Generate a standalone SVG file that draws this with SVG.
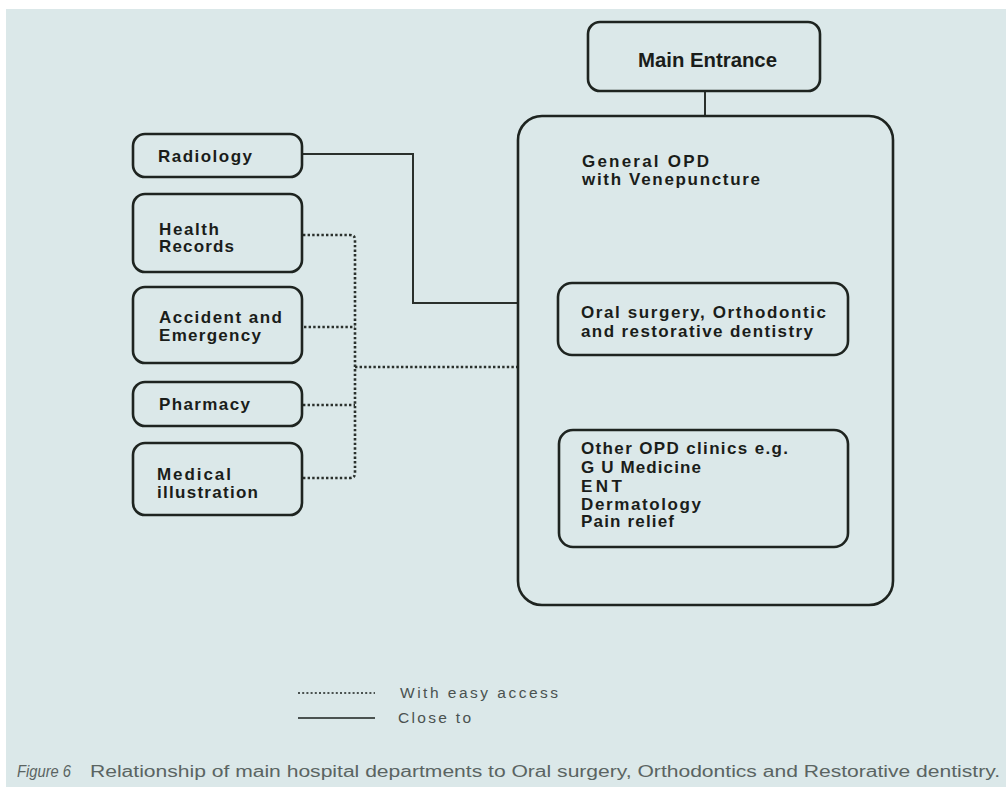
<svg xmlns="http://www.w3.org/2000/svg" width="1006" height="787" viewBox="0 0 1006 787">
<style>
.box{fill:none;stroke:#1e2420;stroke-width:2.6}
.t{font-family:"Liberation Sans",Arial,sans-serif;font-weight:bold;font-size:17px;fill:#1a1d1a}
.me{font-family:"Liberation Sans Narrow","Liberation Sans",Arial,sans-serif;font-weight:bold;font-size:21px;fill:#1a1d1a}
.solid{fill:none;stroke:#2a302c;stroke-width:2}
.dot{fill:none;stroke:#2a302c;stroke-width:2.6;stroke-dasharray:2.4 2.2}
.lg{font-family:"Liberation Sans",Arial,sans-serif;font-size:15.5px;fill:#4a5250}
.cap{font-family:"Liberation Sans Narrow","Liberation Sans",Arial,sans-serif;font-size:16px;fill:#5a6462}
</style>
<rect x="0" y="0" width="1006" height="787" fill="#ffffff"/>
<rect x="6" y="9" width="1000" height="778" fill="#dbe8e9"/>

<g id="connectors">
<path class="solid" d="M705,91 V116"/>
<path class="solid" d="M302,154 H413 V303 H518"/>
<path class="dot" d="M303,235 H350 Q355,235 355,240 V473 Q355,478 350,478 H303"/>
<path class="dot" d="M304,327 H355"/>
<path class="dot" d="M303,405 H355"/>
<path class="dot" d="M355,367 H517"/>
</g>

<g id="main-entrance">
<rect class="box" x="588" y="22" width="232" height="69" rx="12"/>
<text class="me" x="638" y="67" textLength="139" lengthAdjust="spacingAndGlyphs">Main Entrance</text>
</g>

<g id="general-opd">
<rect class="box" x="518" y="116" width="375" height="489" rx="24"/>
<text class="t" x="582" y="167" textLength="127">General OPD</text>
<text class="t" x="582" y="185" textLength="178">with Venepuncture</text>
</g>

<g id="oral-surgery">
<rect class="box" x="558" y="283" width="290" height="72" rx="14"/>
<text class="t" x="581" y="318" textLength="245">Oral surgery, Orthodontic</text>
<text class="t" x="581" y="337" textLength="232">and restorative dentistry</text>
</g>

<g id="other-opd">
<rect class="box" x="559" y="430" width="289" height="117" rx="14"/>
<text class="t" x="581" y="454" textLength="207">Other OPD clinics e.g.</text>
<text class="t" x="581" y="473" textLength="120">G U Medicine</text>
<text class="t" x="581" y="492" textLength="41">ENT</text>
<text class="t" x="581" y="510" textLength="120">Dermatology</text>
<text class="t" x="581" y="527" textLength="93">Pain relief</text>
</g>

<g id="radiology">
<rect class="box" x="133" y="134" width="169" height="43" rx="12"/>
<text class="t" x="158" y="162" textLength="94">Radiology</text>
</g>

<g id="health-records">
<rect class="box" x="133" y="194" width="169" height="78" rx="12"/>
<text class="t" x="159" y="235" textLength="60">Health</text>
<text class="t" x="159" y="252" textLength="75">Records</text>
</g>

<g id="accident-emergency">
<rect class="box" x="133" y="287" width="169" height="76" rx="12"/>
<text class="t" x="159" y="323" textLength="123">Accident and</text>
<text class="t" x="159" y="341" textLength="102">Emergency</text>
</g>

<g id="pharmacy">
<rect class="box" x="133" y="382" width="169" height="44" rx="12"/>
<text class="t" x="159" y="410" textLength="91">Pharmacy</text>
</g>

<g id="medical-illustration">
<rect class="box" x="133" y="443" width="169" height="72" rx="12"/>
<text class="t" x="157" y="480" textLength="74">Medical</text>
<text class="t" x="157" y="498" textLength="101">illustration</text>
</g>

<g id="legend">
<path d="M298,693 H375" fill="none" stroke="#4a5250" stroke-width="2" stroke-dasharray="2 2.2"/>
<text class="lg" x="400" y="698" textLength="158">With easy access</text>
<path d="M298,718 H375" fill="none" stroke="#4a5250" stroke-width="2"/>
<text class="lg" x="398" y="723" textLength="73">Close to</text>
</g>

<g id="caption">
<text class="cap" x="17" y="777" font-style="italic" textLength="54" lengthAdjust="spacingAndGlyphs">Figure 6</text>
<text class="cap" x="90" y="777" textLength="910" lengthAdjust="spacingAndGlyphs">Relationship of main hospital departments to Oral surgery, Orthodontics and Restorative dentistry.</text>
</g>
</svg>
